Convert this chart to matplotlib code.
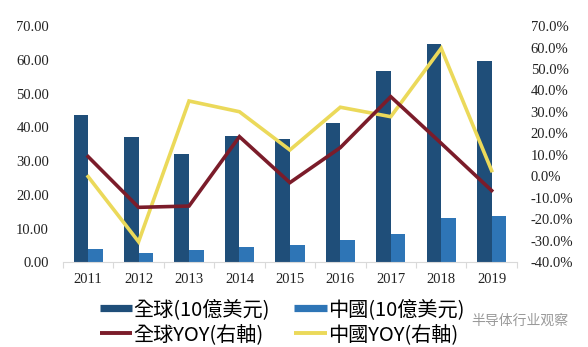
import matplotlib
matplotlib.use("Agg")
import matplotlib.pyplot as plt
from matplotlib.lines import Line2D
import numpy as np

years = ["2011", "2012", "2013", "2014", "2015", "2016", "2017", "2018", "2019"]
global_rev = [43.6, 37.0, 32.0, 37.5, 36.5, 41.4, 56.7, 64.6, 59.7]
china_rev = [3.85, 2.7, 3.6, 4.5, 5.1, 6.7, 8.4, 13.2, 13.6]
global_yoy = [9.2, -14.4, -13.8, 18.5, -2.9, 13.4, 37.1, 15.4, -6.6]
china_yoy = [-0.1, -30.4, 35.1, 30.1, 12.3, 32.2, 27.8, 59.6, 2.7]

c_global = "#1F4E79"
c_china = "#2E75B6"
c_gyoy = "#7B1C2A"
c_cyoy = "#EBD95A"

cjk = ["Noto Sans CJK TC", "DejaVu Sans"]
serif = "Liberation Serif"

fig = plt.figure(figsize=(5.88, 3.47), dpi=100)
ax = fig.add_axes([0.107, 0.244, 0.772, 0.681])
ax2 = ax.twinx()

x = np.arange(len(years))
w = 0.29
ax.bar(x - w / 2, global_rev, width=w, color=c_global, zorder=2)
ax.bar(x + w / 2, china_rev, width=w, color=c_china, zorder=2)

ax2.plot(x, china_yoy, color=c_cyoy, lw=2.6, solid_joinstyle="miter", zorder=3)
ax2.plot(x, global_yoy, color=c_gyoy, lw=2.6, solid_joinstyle="miter", zorder=4)

ax.set_xlim(-0.5, len(years) - 0.5)
ax.set_ylim(0, 70)
ax2.set_ylim(-40, 70)

ax.set_yticks(np.arange(0, 71, 10))
ax.set_yticklabels([f"{v:.2f}" for v in np.arange(0, 71, 10)])
ax2.set_yticks(np.arange(-40, 71, 10))
ax2.set_yticklabels([f"{v:.1f}%" for v in np.arange(-40, 71, 10)])

# category boundaries carry the tick marks, labels sit at centres
ax.set_xticks(np.arange(-0.5, len(years), 1))
ax.set_xticklabels([])
ax.set_xticks(x, minor=True)
ax.set_xticklabels(years, minor=True)
ax.tick_params(axis="x", which="major", length=4, color="#D9D9D9", width=0.8)
ax.tick_params(axis="x", which="minor", length=0, pad=8)

for a in (ax, ax2):
    for s in a.spines.values():
        s.set_visible(False)
ax.spines["bottom"].set_visible(True)
ax.spines["bottom"].set_color("#D9D9D9")
ax.spines["bottom"].set_linewidth(0.8)

ax.tick_params(axis="y", length=0, pad=10)
ax2.tick_params(axis="y", length=0, pad=10)
for lab in ax.get_yticklabels() + ax2.get_yticklabels() + ax.get_xticklabels(minor=True):
    lab.set_fontfamily(serif)
    lab.set_fontsize(10.5)
    lab.set_color("#222222")
for lab in ax2.get_yticklabels():
    lab.set_horizontalalignment("left")

handles = [
    Line2D([], [], color=c_global, lw=5.2, solid_capstyle="butt"),
    Line2D([], [], color=c_gyoy, lw=2.8, solid_capstyle="butt"),
    Line2D([], [], color=c_china, lw=5.2, solid_capstyle="butt"),
    Line2D([], [], color=c_cyoy, lw=2.8, solid_capstyle="butt"),
]
labels = ["全球(10億美元)", "全球YOY(右軸)", "中國(10億美元)", "中國YOY(右軸)"]
fig.legend(handles, labels, loc="center", bbox_to_anchor=(0.48, 0.072), ncol=2,
           frameon=False, prop={"family": cjk, "size": 14.5},
           handlelength=1.6, handletextpad=0.08, columnspacing=1.2,
           labelspacing=0.22, borderpad=0)

fig.text(0.966, 0.075, "半导体行业观察", ha="right", va="center",
         fontsize=10, color="#9A9A9A", family=cjk)

fig.savefig("out.png", dpi=100, facecolor="white")
